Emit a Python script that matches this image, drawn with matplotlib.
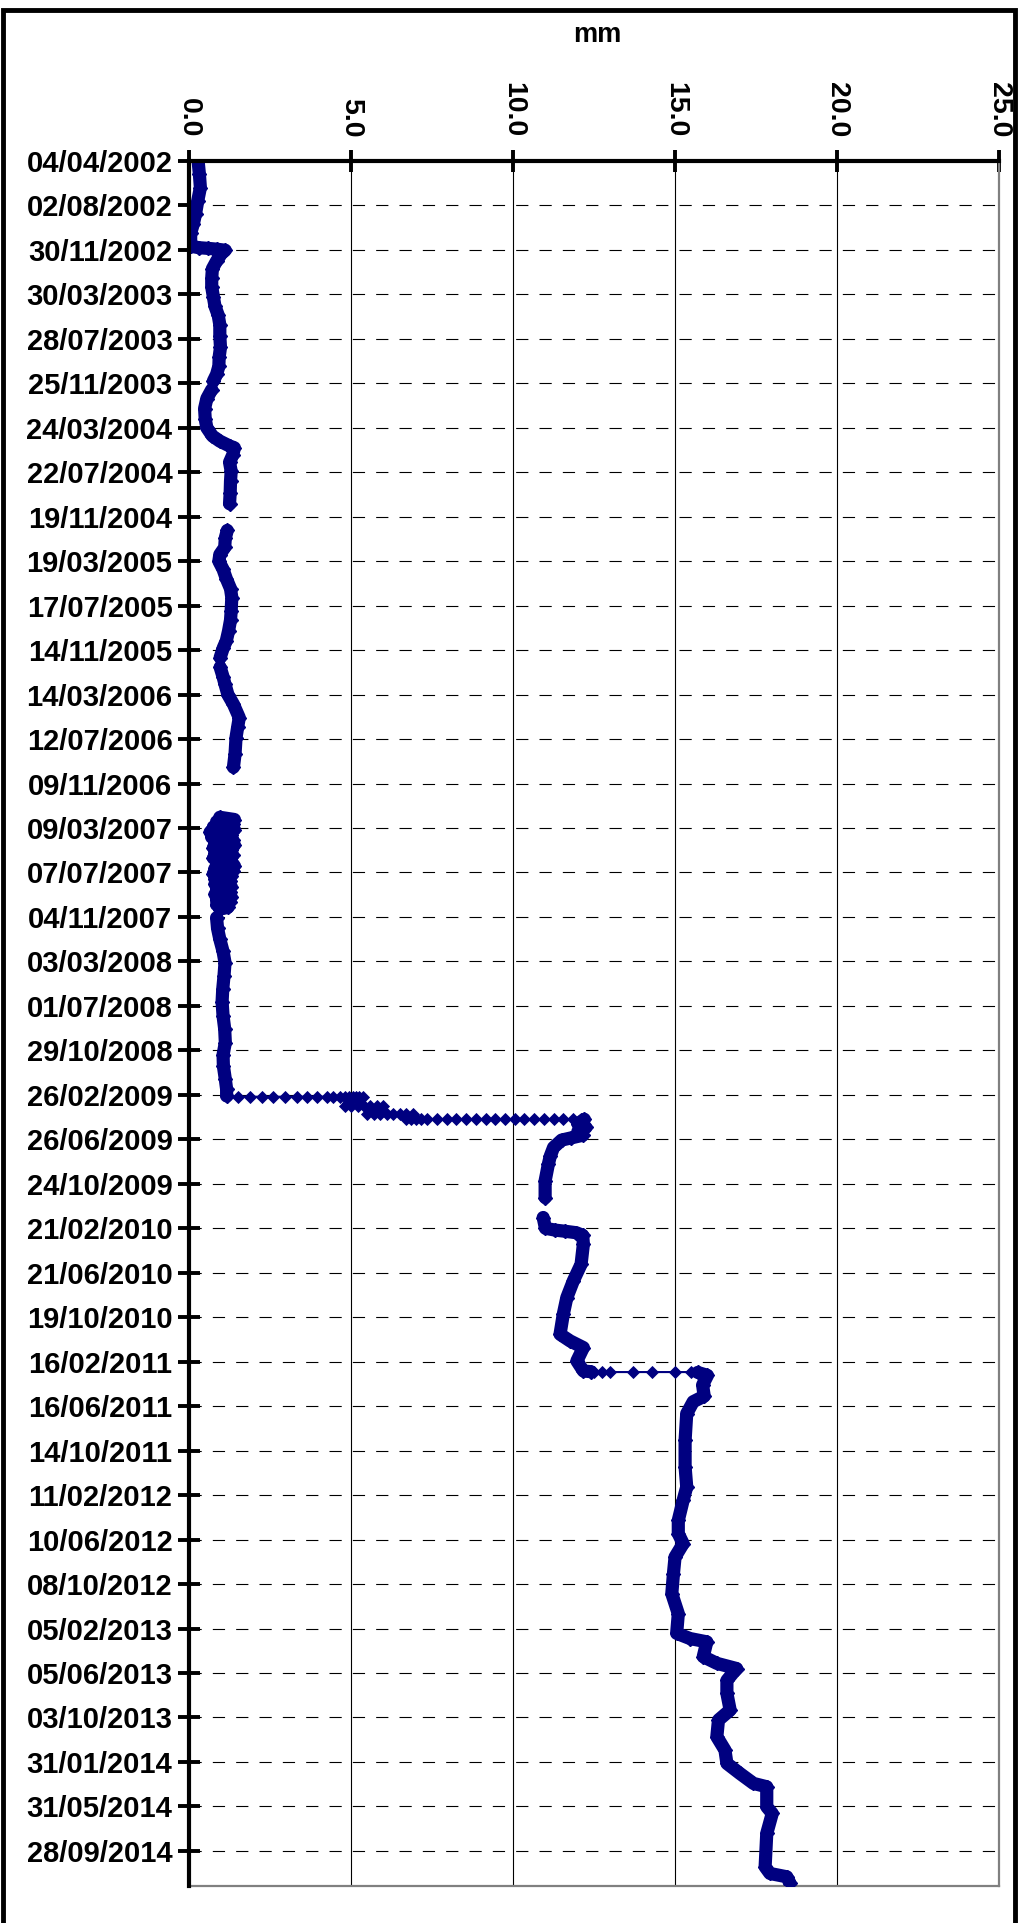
import numpy as np
import pandas as pd
import matplotlib
matplotlib.use("Agg")
import matplotlib.pyplot as plt
from matplotlib.patches import Rectangle

plt.rcParams['font.family'] = ['Liberation Sans', 'DejaVu Sans']
plt.rcParams['font.weight'] = 'bold'

# y axis tick labels (dates, every 120 days)
tick_labels = ["04/04/2002", "02/08/2002", "30/11/2002", "30/03/2003", "28/07/2003",
               "25/11/2003", "24/03/2004", "22/07/2004", "19/11/2004", "19/03/2005",
               "17/07/2005", "14/11/2005", "14/03/2006", "12/07/2006", "09/11/2006",
               "09/03/2007", "07/07/2007", "04/11/2007", "03/03/2008", "01/07/2008",
               "29/10/2008", "26/02/2009", "26/06/2009", "24/10/2009", "21/02/2010",
               "21/06/2010", "19/10/2010", "16/02/2011", "16/06/2011", "14/10/2011",
               "11/02/2012", "10/06/2012", "08/10/2012", "05/02/2013", "05/06/2013",
               "03/10/2013", "31/01/2014", "31/05/2014", "28/09/2014"]
date_min = "2002-04-04"
date_max = "2015-01-01"
mm_ticks = [0, 5, 10, 15, 20, 25]

# slowly varying readings (NaN = gap in record)
trace_dates = [
    "2002-04-04", "2002-05-10", "2002-06-15", "2002-07-20", "2002-08-25", "2002-09-22",
    "2002-10-15", "2002-11-20", "2002-11-24", "2002-11-26", "2002-11-28", "2002-12-01",
    "2002-12-10", "2002-12-30", "2003-01-20", "2003-02-15", "2003-03-10", "2003-04-05",
    "2003-05-01", "2003-05-25", "2003-06-20", "2003-07-20", "2003-08-20", "2003-09-15",
    "2003-10-10", "2003-11-01", "2003-11-19", "2003-11-30",
    "2003-12-12", "2004-01-05", "2004-02-01", "2004-03-01", "2004-03-24", "2004-04-15",
    "2004-04-29", "2004-05-12", "2004-05-17", "2004-06-05", "2004-06-25", "2004-07-19",
    "2004-08-15", "2004-09-15", "2004-10-15", "2004-11-20",
    "2004-12-26", "2005-01-15", "2005-02-10", "2005-03-01", "2005-03-19", "2005-04-10",
    "2005-05-05", "2005-06-01", "2005-06-25", "2005-07-31", "2005-08-25", "2005-09-23",
    "2005-10-20", "2005-11-07", "2005-12-04", "2005-12-17",
    "2005-12-30", "2006-01-25", "2006-02-14", "2006-03-14", "2006-04-09", "2006-05-15",
    "2006-06-10", "2006-07-08", "2006-08-21", "2006-09-26", "2006-12-15",
    "2007-02-08", "2007-02-14", "2007-02-20", "2007-02-27", "2007-03-06", "2007-03-13",
    "2007-03-20", "2007-03-27", "2007-04-03", "2007-04-10", "2007-04-17", "2007-04-24",
    "2007-05-01", "2007-05-08", "2007-05-15", "2007-05-22", "2007-05-29", "2007-06-05",
    "2007-06-12", "2007-06-19", "2007-06-26", "2007-07-03", "2007-07-10", "2007-07-17",
    "2007-07-24", "2007-07-31", "2007-08-07", "2007-08-14", "2007-08-21", "2007-08-28",
    "2007-09-04", "2007-09-11", "2007-09-18", "2007-09-25", "2007-10-02", "2007-10-09",
    "2007-10-14", "2007-10-25",
    "2007-11-06", "2007-12-05", "2008-01-03", "2008-02-05", "2008-03-06", "2008-04-10",
    "2008-05-17", "2008-06-20", "2008-07-28", "2008-09-01", "2008-10-08", "2008-11-10",
    "2008-12-10", "2009-01-15", "2009-02-11", "2009-03-01", "2009-03-20",
    "2009-05-03", "2009-05-15", "2009-05-25", "2009-06-05", "2009-06-15", "2009-06-22",
    "2009-06-28", "2009-07-18", "2009-08-10", "2009-09-01", "2009-10-16", "2009-11-30",
    "2009-12-25",
    "2010-01-23", "2010-02-21", "2010-02-26", "2010-03-01", "2010-03-05", "2010-03-12",
    "2010-04-05", "2010-05-29", "2010-07-13", "2010-08-27", "2010-10-11", "2010-12-04",
    "2010-12-22", "2011-01-09", "2011-02-14", "2011-03-13", "2011-03-15", "2011-03-16",
    "2011-03-17", "2011-03-25", "2011-04-20", "2011-05-20", "2011-06-04", "2011-07-06",
    "2011-09-16", "2011-11-27", "2012-01-20", "2012-02-25", "2012-04-19", "2012-05-25",
    "2012-06-21", "2012-07-27", "2012-09-10", "2012-11-03", "2012-12-27", "2013-02-18",
    "2013-03-04", "2013-03-13", "2013-04-22", "2013-05-10", "2013-05-24", "2013-06-25",
    "2013-07-30", "2013-09-13", "2013-10-10", "2013-11-24", "2013-12-30", "2014-02-04",
    "2014-03-03", "2014-03-30", "2014-04-08", "2014-06-01", "2014-06-19", "2014-08-12",
    "2014-11-10", "2014-11-28", "2014-12-07", "2014-12-25",
]
trace_mm = [
    0.28, 0.32, 0.35, 0.27, 0.20, 0.13,
    0.05, 0.05, 0.30, 0.60, 0.85, 1.12,
    1.00, 0.85, 0.72, 0.70, 0.70, 0.75,
    0.80, 0.90, 0.95, 0.95, 0.97, 0.93,
    0.92, 0.85, 0.75, np.nan,
    0.70, 0.55, 0.48, 0.50, 0.55, 0.72,
    0.95, 1.25, 1.40, 1.35, 1.25, 1.30,
    1.28, 1.27, 1.25, np.nan,
    1.18, 1.12, 1.10, 0.95, 0.92, 1.05,
    1.15, 1.28, 1.32, 1.30, 1.28, 1.22,
    1.15, 1.06, 0.96, np.nan,
    0.96, 1.05, 1.11, 1.20, 1.37, 1.55,
    1.50, 1.45, 1.42, 1.37, np.nan,
    0.95, 1.40, 0.85, 1.35, 0.75, 1.40,
    0.65, 1.30, 0.70, 1.35, 0.80, 1.40,
    0.75, 1.30, 0.80, 1.35, 0.75, 1.30,
    0.85, 1.40, 0.80, 1.35, 0.75, 1.30,
    0.80, 1.25, 0.80, 1.30, 0.85, 1.25,
    0.80, 1.30, 0.85, 1.25, 0.85, 1.20,
    0.95, np.nan,
    0.85, 0.88, 0.95, 1.05, 1.11, 1.08,
    1.04, 1.02, 1.05, 1.10, 1.12, 1.05,
    1.06, 1.12, 1.16, 1.16, np.nan,
    12.2, 12.0, 12.25, 12.0, 12.15, 11.8,
    11.5, 11.25, 11.15, 11.09, 10.99, 10.99,
    np.nan,
    10.93, 11.0, 11.3, 11.6, 11.95, 12.15,
    12.17, 12.1, 11.86, 11.66, 11.55, 11.45,
    11.76, 12.17, 11.97, 12.17, 12.4, np.nan,
    15.7, 16.0, 15.85, 15.9, 15.56, 15.36,
    15.31, 15.31, 15.36, 15.25, 15.10, 15.10,
    15.25, 15.0, 14.95, 14.9, 15.10, 15.05,
    15.46, 15.98, 15.87, 16.29, 16.9, 16.6,
    16.6, 16.7, 16.34, 16.29, 16.54, 16.6,
    17.0, 17.42, 17.83, 17.83, 18.0, 17.83,
    17.78, 17.93, 18.45, 18.55,
]

# fast movements (individual readings visible as separate diamonds)
jump_dates = (["2009-03-01"] + ["2009-03-03"] * 17 + ["2009-03-12", "2009-03-20"]
              + ["2009-03-28"] * 7 + ["2009-04-08"] + ["2009-04-19"] * 8
              + ["2009-05-03"] * 22 + ["2010-01-01"]
              + ["2011-03-15"] + ["2011-03-16"] * 8)
jump_mm = ([1.16]
           + [1.51, 1.88, 2.24, 2.59, 2.96, 3.32, 3.63, 3.94, 4.25, 4.45, 4.65, 4.8,
              4.95, 5.05, 5.15, 5.25, 5.38]
           + [5.2, 4.9]
           + [4.8, 5.0, 5.2, 5.4, 5.6, 5.8, 6.0]
           + [5.8]
           + [5.5, 5.7, 5.9, 6.1, 6.3, 6.5, 6.7, 6.9]
           + [6.7, 6.85, 7.0, 7.15, 7.35, 7.65, 7.95, 8.25, 8.55, 8.85, 9.15, 9.45,
              9.75, 10.05, 10.35, 10.65, 10.95, 11.25, 11.55, 11.85, 12.1, 12.2]
           + [np.nan]
           + [12.4]
           + [12.5, 12.75, 13.0, 13.7, 14.3, 15.0, 15.5, 15.7])

navy = "#000080"

fig = plt.figure(figsize=(10.18, 19.23), dpi=100)
ax = fig.add_axes([0.1857, 0.0192, 0.7957, 0.8971])

tdates = pd.to_datetime(trace_dates)
jdates = pd.to_datetime(jump_dates)

# mm along x, dates running down the y axis
ax.plot(jump_mm, jdates, color=navy, lw=1.5, marker='D', ms=6.5, mew=0.6,
        mec=navy, mfc=navy, zorder=3)
ax.plot(trace_mm, tdates, color=navy, lw=9.5, marker='D', ms=7, mec=navy,
        solid_joinstyle='round', solid_capstyle='round', zorder=4)

ytick_pos = pd.to_datetime(tick_labels, format="%d/%m/%Y")
ax.set_yticks(ytick_pos)
ax.set_yticklabels(tick_labels, fontsize=21, fontweight='bold')
ax.set_ylim(pd.Timestamp(date_max), pd.Timestamp(date_min))

ax.set_xlim(0, 25)
ax.xaxis.tick_top()
ax.set_xticks(mm_ticks)
ax.set_xticklabels(["%.1f" % v for v in mm_ticks], fontsize=20.5,
                   fontweight='bold', rotation=270)

ax.tick_params(axis='y', direction='inout', length=16, width=2.8, pad=4)
ax.tick_params(axis='x', direction='inout', length=16, width=2.8, pad=9)

ax.grid(axis='x', color='black', lw=0.8, ls='-')
ax.grid(axis='y', color='black', lw=0.8, ls=(0, (11, 10)))
ax.set_axisbelow(True)

for side in ['left', 'top']:
    ax.spines[side].set_linewidth(3)
    ax.spines[side].set_color('black')
    ax.spines[side].set_zorder(5)
for side in ['right', 'bottom']:
    ax.spines[side].set_linewidth(1.6)
    ax.spines[side].set_color('#808080')

fig.text(0.5865, 1 - 35 / 1923, "mm", fontsize=19.5, fontweight='bold',
         ha='center', va='center')

fig.patches.append(Rectangle((0.0025, -0.01), 0.995, 1.005, transform=fig.transFigure,
                             fill=False, lw=3.5, ec='black'))

fig.savefig("out.png", dpi=100)
